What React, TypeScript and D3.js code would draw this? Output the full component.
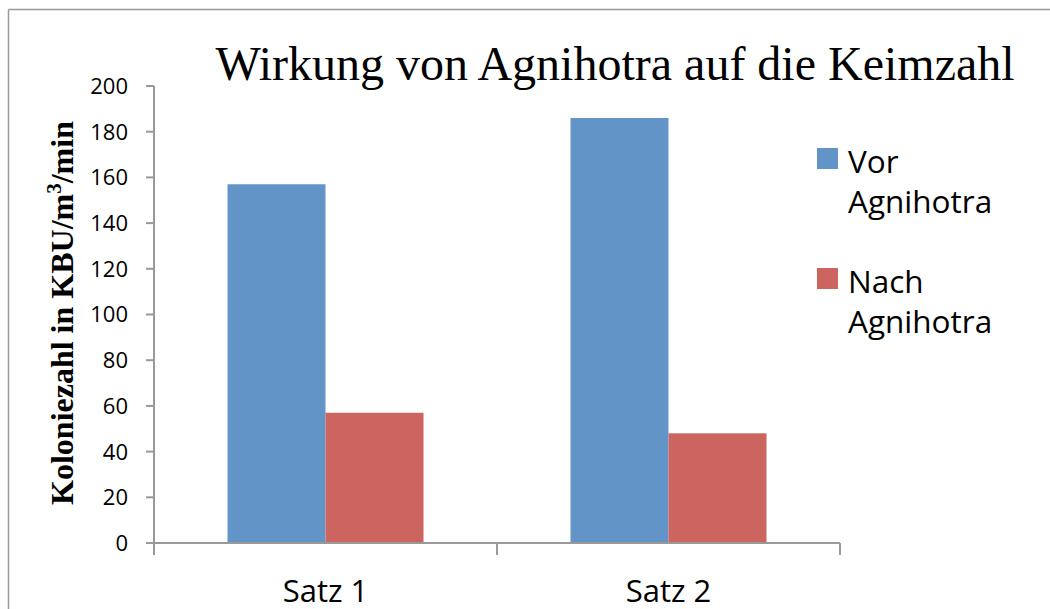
import React, { FunctionComponent, useEffect, useRef } from "react";
import * as d3 from 'd3';

const categories = ['Satz 1', 'Satz 2'];
const seriesNames = ['Vor Agnihotra', 'Nach Agnihotra'];
const vorValues = [157, 186];
const nachValues = [57, 48];
const yTicks = [0, 20, 40, 60, 80, 100, 120, 140, 160, 180, 200];
const colors = ['#6294c8', '#cc655f'];

const App: FunctionComponent = () => {
  const d3Container = useRef(null);

  useEffect(() => {
    if (!d3Container.current) {
      return;
    }
    const svg = d3.select(d3Container.current);
    svg.selectAll('*').remove();

    const width = 1050;
    const height = 609;
    const left = 154;
    const right = 840;
    const top = 86;
    const bottom = 543;
    const axisColor = '#999';
    const sans = '"Open Sans", sans-serif';
    const serif = '"Liberation Serif", "Times New Roman", serif';

    svg.attr('width', width).attr('height', height);

    // outer frame (only top and left edges are visible)
    svg.append('line').attr('x1', 8.5).attr('x2', width).attr('y1', 9.5).attr('y2', 9.5)
      .attr('stroke', axisColor).attr('stroke-width', 1.5);
    svg.append('line').attr('x1', 8.5).attr('x2', 8.5).attr('y1', 9.5).attr('y2', height)
      .attr('stroke', axisColor).attr('stroke-width', 1.5);

    const x0 = d3.scaleBand().domain(categories).range([left, right]).padding(0);
    const x1 = d3.scaleBand().domain(seriesNames).range([0, x0.bandwidth()])
      .paddingInner(0).paddingOuter(0.75);
    const y = d3.scaleLinear().domain([0, 200]).range([bottom, top]);

    const data = categories.map((c, i) => ({
      cat: c,
      values: [vorValues[i], nachValues[i]]
    }));

    // bars
    const groups = svg.append('g').selectAll('g').data(data).enter()
      .append('g')
      .attr('transform', (d: any) => 'translate(' + x0(d.cat) + ',0)');

    groups.selectAll('rect')
      .data((d: any) => d.values.map((v: number, k: number) => ({ v, k })))
      .enter()
      .append('rect')
      .attr('x', (d: any) => x1(seriesNames[d.k]) as number)
      .attr('y', (d: any) => y(d.v))
      .attr('width', x1.bandwidth())
      .attr('height', (d: any) => bottom - y(d.v))
      .attr('fill', (d: any) => colors[d.k]);

    // y axis
    const yAxis = svg.append('g');
    yAxis.append('line').attr('x1', left).attr('x2', left).attr('y1', top).attr('y2', bottom + 12)
      .attr('stroke', axisColor).attr('stroke-width', 2);
    yTicks.forEach(t => {
      yAxis.append('line').attr('x1', left - 8).attr('x2', left).attr('y1', y(t)).attr('y2', y(t))
        .attr('stroke', axisColor).attr('stroke-width', 2);
      yAxis.append('text')
        .attr('x', 128).attr('y', y(t)).attr('dy', '0.36em')
        .attr('text-anchor', 'end')
        .style('font-family', sans).style('font-size', '22px').attr('fill', '#000')
        .text(t);
    });

    // x axis
    const xAxis = svg.append('g');
    xAxis.append('line').attr('x1', left).attr('x2', right).attr('y1', bottom).attr('y2', bottom)
      .attr('stroke', axisColor).attr('stroke-width', 2);
    const bounds = [...categories.map(c => x0(c) as number), right];
    bounds.forEach(b => {
      xAxis.append('line').attr('x1', b).attr('x2', b).attr('y1', bottom).attr('y2', bottom + 12)
        .attr('stroke', axisColor).attr('stroke-width', 2);
    });
    categories.forEach(c => {
      xAxis.append('text')
        .attr('x', (x0(c) as number) + x0.bandwidth() / 2).attr('y', 602)
        .attr('text-anchor', 'middle')
        .style('font-family', sans).style('font-size', '31px').attr('fill', '#000')
        .text(c);
    });

    // y axis title
    const yTitle = svg.append('text')
      .attr('transform', 'translate(73,313) rotate(-90)')
      .attr('text-anchor', 'middle')
      .style('font-family', serif).style('font-size', '32px').style('font-weight', 'bold')
      .attr('fill', '#000');
    yTitle.append('tspan').text('Koloniezahl in KBU/m');
    yTitle.append('tspan').attr('dy', -12).style('font-size', '21px').text('3');
    yTitle.append('tspan').attr('dy', 12).text('/min');

    // title
    svg.append('text')
      .attr('x', 615).attr('y', 80)
      .attr('text-anchor', 'middle')
      .style('font-family', serif).style('font-size', '48px').attr('fill', '#000')
      .text('Wirkung von Agnihotra auf die Keimzahl');

    // legend
    const legendY = [148, 268];
    seriesNames.forEach((name, k) => {
      const g = svg.append('g');
      g.append('rect').attr('x', 817).attr('y', legendY[k]).attr('width', 21).attr('height', 21)
        .attr('fill', colors[k]);
      const parts = name.split(' ');
      parts.forEach((p, j) => {
        g.append('text')
          .attr('x', 848).attr('y', legendY[k] + 25 + j * 40)
          .style('font-family', sans).style('font-size', '31.5px').attr('fill', '#000')
          .text(p);
      });
    });
  }, []);

  return (<div>
    <svg ref={d3Container} style={{ position: 'absolute', left: 0, top: 0 }} width={1050} height={609}/>
  </div>);
};

export default App;
